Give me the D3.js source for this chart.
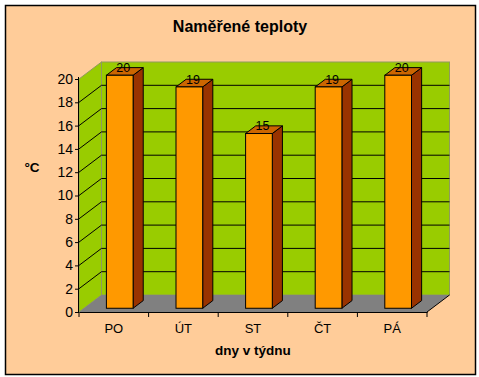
<!DOCTYPE html>
<html>
<head>
<meta charset="utf-8">
<script src="https://cdn.jsdelivr.net/npm/d3@7"></script>
<style>
  body { margin: 0; background: #ffffff; }
  text { font-family: "Liberation Sans", Arial, sans-serif; }
</style>
</head>
<body>
<div id="chart"></div>
<script>
// data
var days = ["PO", "ÚT", "ST", "ČT", "PÁ"];
var temps = [20, 19, 15, 19, 20];
var yTicks = [0, 2, 4, 6, 8, 10, 12, 14, 16, 18, 20];

var svgWidth = 479;
var svgHeight = 377;

// plot front plane
var plot = { left: 79, right: 427, top: 79, bottom: 312 };
// 3d depth offset
var depth = { dx: 22.5, dy: -17 };
var barStart = 0.22;   // fraction of depth where bar front sits
var barDepth = 0.45;   // fraction of depth the bar occupies
var barWidth = 26.7;

var svg = d3.select("#chart")
  .append("svg")
  .attr("width", svgWidth)
  .attr("height", svgHeight);

// chart area
svg.append("rect")
  .attr("x", 5.5)
  .attr("y", 5.5)
  .attr("width", 470)
  .attr("height", 369)
  .attr("fill", "#FFCC99")
  .attr("stroke", "#000")
  .attr("stroke-width", 1.5);

var xScale = d3.scaleBand()
  .domain(days)
  .range([plot.left, plot.right]);

var yScale = d3.scaleLinear()
  .domain([0, 20])
  .range([plot.bottom, plot.top]);

var line = d3.line();

// side wall
svg.append("path")
  .attr("d", line([
    [plot.left, yScale(0)], [plot.left, yScale(20)],
    [plot.left + depth.dx, yScale(20) + depth.dy], [plot.left + depth.dx, yScale(0) + depth.dy]
  ]) + "Z")
  .attr("fill", "#99CC00")
  .attr("stroke", "#8f9a5c")
  .attr("stroke-width", 1);

// back wall
svg.append("rect")
  .attr("x", plot.left + depth.dx)
  .attr("y", yScale(20) + depth.dy)
  .attr("width", plot.right - plot.left)
  .attr("height", yScale(0) - yScale(20))
  .attr("fill", "#99CC00")
  .attr("stroke", "#8f9a5c")
  .attr("stroke-width", 1);

// floor
svg.append("path")
  .attr("d", line([
    [plot.left, yScale(0)], [plot.right, yScale(0)],
    [plot.right + depth.dx, yScale(0) + depth.dy], [plot.left + depth.dx, yScale(0) + depth.dy]
  ]) + "Z")
  .attr("fill", "#808080");

// gridlines
var grid = yTicks.filter(d => d > 0 && d < 20);
svg.selectAll(".grid-back")
  .data(grid)
  .enter()
  .append("line")
  .attr("x1", plot.left + depth.dx)
  .attr("x2", plot.right + depth.dx)
  .attr("y1", d => yScale(d) + depth.dy)
  .attr("y2", d => yScale(d) + depth.dy)
  .attr("stroke", "#000")
  .attr("stroke-width", 1);

svg.selectAll(".grid-side")
  .data(grid)
  .enter()
  .append("line")
  .attr("x1", plot.left)
  .attr("x2", plot.left + depth.dx)
  .attr("y1", d => yScale(d))
  .attr("y2", d => yScale(d) + depth.dy)
  .attr("stroke", "#000")
  .attr("stroke-width", 1);

// axes
var leftAxis = d3.axisLeft(yScale)
  .tickValues(yTicks)
  .tickSize(4)
  .tickPadding(2);

var yAxis = svg.append("g")
  .attr("transform", `translate(${plot.left}, 0)`)
  .call(leftAxis);
yAxis.select(".domain").attr("d", `M-0.5,${yScale(0)}V${yScale(20) - 2}`);
yAxis.selectAll(".tick text").attr("font-size", 14);

var bottomAxis = d3.axisBottom(xScale)
  .tickSize(0)
  .tickPadding(12);

var xAxis = svg.append("g")
  .attr("transform", `translate(0, ${plot.bottom})`)
  .call(bottomAxis);
xAxis.selectAll(".tick text").attr("font-size", 13);

// tick marks at band edges
var edges = days.map(d => xScale(d)).concat([plot.right]);
xAxis.selectAll(".edge")
  .data(edges)
  .enter()
  .append("line")
  .attr("x1", d => d)
  .attr("x2", d => d)
  .attr("y1", 0)
  .attr("y2", 5)
  .attr("stroke", "#000");

svg.append("line")
  .attr("x1", plot.right)
  .attr("y1", plot.bottom)
  .attr("x2", plot.right + depth.dx)
  .attr("y2", plot.bottom + depth.dy)
  .attr("stroke", "#000");

svg.selectAll(".tick text")
  .attr("fill", "#000")
  .attr("font-family", "Liberation Sans, Arial, sans-serif");

// bars
var ox = barStart * depth.dx, oy = barStart * depth.dy;
var bx = barDepth * depth.dx, by = barDepth * depth.dy;

function barX(d, i) { return xScale(days[i]) + xScale.bandwidth() / 2 - barWidth / 2 + ox + 1; }

var bars = svg.selectAll(".bar")
  .data(temps)
  .enter()
  .append("g");

// side face
bars.append("path")
  .attr("d", (d, i) => {
    var x = barX(d, i) + barWidth, yt = yScale(d) + oy, yb = yScale(0) + oy;
    return line([[x, yb], [x, yt], [x + bx, yt + by], [x + bx, yb + by]]) + "Z";
  })
  .attr("fill", "#993300")
  .attr("stroke", "#000")
  .attr("stroke-linejoin", "round");

// top face
bars.append("path")
  .attr("d", (d, i) => {
    var x = barX(d, i), yt = yScale(d) + oy;
    return line([[x, yt], [x + barWidth, yt], [x + barWidth + bx, yt + by], [x + bx, yt + by]]) + "Z";
  })
  .attr("fill", "#CC6600")
  .attr("stroke", "#000")
  .attr("stroke-linejoin", "round");

// front face
bars.append("rect")
  .attr("x", (d, i) => barX(d, i))
  .attr("y", d => yScale(d) + oy)
  .attr("width", barWidth)
  .attr("height", d => yScale(0) - yScale(d))
  .attr("fill", "#FF9900")
  .attr("stroke", "#000");

// value labels
bars.append("text")
  .attr("x", (d, i) => barX(d, i) + barWidth / 2 + bx / 2 - 1.5)
  .attr("y", d => yScale(d) + oy + by / 2 + 0.5)
  .attr("text-anchor", "middle")
  .attr("font-size", 12.5)
  .text(d => d);

// title
svg.append("text")
  .attr("x", 240)
  .attr("y", 32)
  .attr("text-anchor", "middle")
  .attr("font-size", 16)
  .attr("font-weight", "bold")
  .text("Naměřené teploty");

// axis titles
svg.append("text")
  .attr("x", 253)
  .attr("y", 355)
  .attr("text-anchor", "middle")
  .attr("font-size", 13.5)
  .attr("font-weight", "bold")
  .text("dny v týdnu");

svg.append("text")
  .attr("x", 32)
  .attr("y", 172)
  .attr("text-anchor", "middle")
  .attr("font-size", 13.5)
  .attr("font-weight", "bold")
  .text("°C");
</script>
</body>
</html>
